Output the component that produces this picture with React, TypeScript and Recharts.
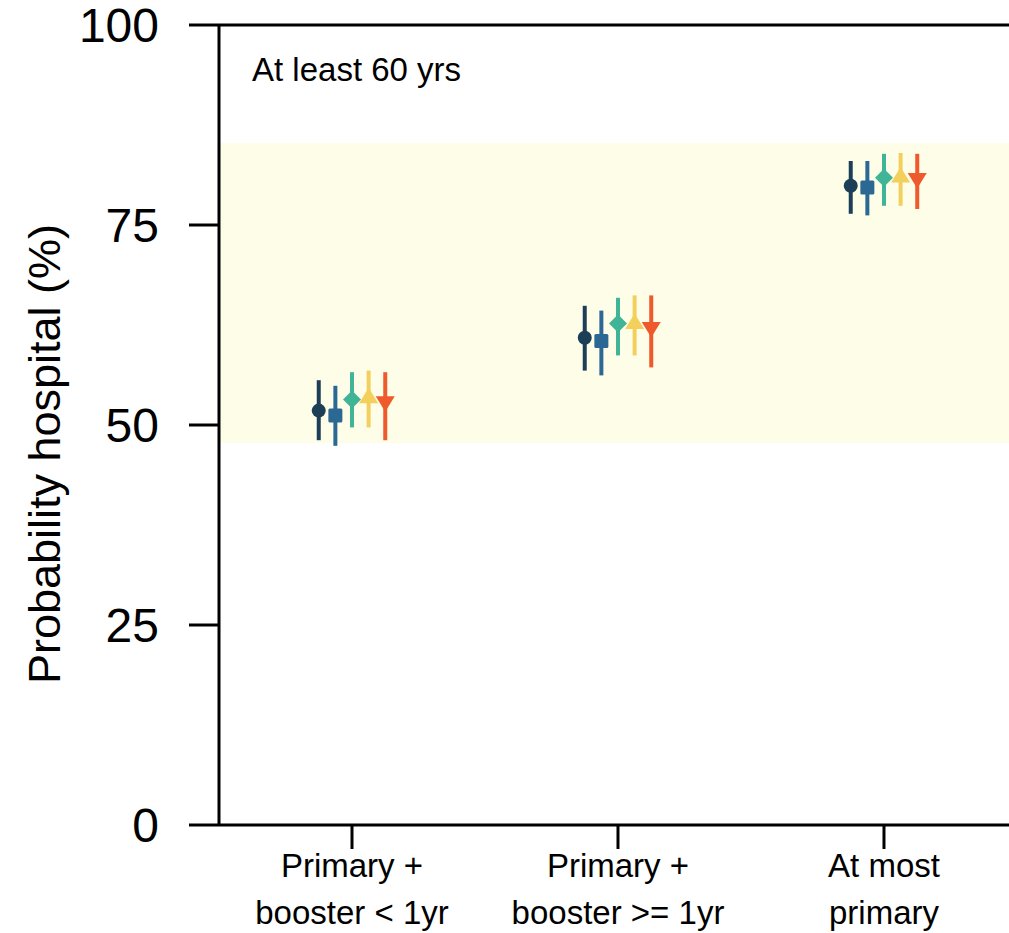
import { ScatterChart, Scatter, XAxis, YAxis, ErrorBar, ReferenceArea, ReferenceLine } from 'recharts'

const FONT = '"Liberation Sans", Arial, sans-serif'

// categories (two lines each) and where they sit on the x axis
const categories = [
  ['Primary +', 'booster < 1yr'],
  ['Primary +', 'booster >= 1yr'],
  ['At most', 'primary'],
]
const categoryPos = [1, 2, 3]

// five estimates per category, dodged side by side
const dodge = [-0.125, -0.0625, 0, 0.0625, 0.125]
const colors = ['#1c3f57', '#2b6894', '#3fb497', '#f3cf5c', '#ee5a2c']
const shapes = ['circle', 'square', 'diamond', 'triUp', 'triDown']

const est1 = [51.8, 60.9, 79.9]
const low1 = [48.1, 56.8, 76.4]
const high1 = [55.6, 64.9, 83.0]

const est2 = [51.2, 60.5, 79.7]
const low2 = [47.4, 56.2, 76.2]
const high2 = [54.9, 64.3, 83.0]

const est3 = [53.2, 62.7, 80.9]
const low3 = [49.7, 58.7, 77.4]
const high3 = [56.6, 65.9, 83.9]

const est4 = [53.4, 62.7, 81.0]
const low4 = [49.7, 58.7, 77.4]
const high4 = [56.8, 66.2, 84.0]

const est5 = [52.9, 62.2, 80.8]
const low5 = [48.1, 57.2, 77.0]
const high5 = [56.6, 66.2, 83.9]

const estimates = [est1, est2, est3, est4, est5]
const lows = [low1, low2, low3, low4, low5]
const highs = [high1, high2, high3, high4, high5]

// shaded band
const bandLow = 47.75
const bandHigh = 85.25

const yTicks = [0, 25, 50, 75, 100]

const seriesData = estimates.map((est, s) =>
  est.map((v, i) => ({
    x: categoryPos[i] + dodge[s],
    y: v,
    err: [v - lows[s][i], highs[s][i] - v],
  }))
)

function makeShape(kind: string, color: string) {
  return (props: any) => {
    const { cx, cy } = props
    if (cx == null || cy == null) return <g />
    if (kind === 'circle') return <circle cx={cx} cy={cy} r={7} fill={color} />
    if (kind === 'square') return <rect x={cx - 7} y={cy - 7} width={14} height={14} rx={1.5} fill={color} />
    if (kind === 'diamond')
      return <polygon points={`${cx},${cy - 9} ${cx + 9},${cy} ${cx},${cy + 9} ${cx - 9},${cy}`} fill={color} />
    if (kind === 'triUp')
      return <polygon points={`${cx - 9.5},${cy + 5.5} ${cx + 9.5},${cy + 5.5} ${cx},${cy - 10}`} fill={color} />
    return <polygon points={`${cx - 9.5},${cy - 5.5} ${cx + 9.5},${cy - 5.5} ${cx},${cy + 10}`} fill={color} />
  }
}

function XTick(props: any) {
  const { x, payload } = props
  const idx = categoryPos.indexOf(payload.value)
  const lines = categories[idx] || []
  return (
    <text x={x} y={877} textAnchor="middle" fontFamily={FONT} fontSize={33} fill="#000">
      <tspan x={x} y={877}>{lines[0]}</tspan>
      <tspan x={x} y={924}>{lines[1]}</tspan>
    </text>
  )
}

function YLabel() {
  return (
    <text
      x={60}
      y={454}
      transform="rotate(-90 60 454)"
      textAnchor="middle"
      fontFamily={FONT}
      fontSize={45}
      fill="#000"
    >
      Probability hospital (%)
    </text>
  )
}

export default function App() {
  return (
    <div style={{ position: 'absolute', left: 0, top: 0, width: 1009, height: 933, background: '#fff' }}>
      <ScatterChart width={1009} height={933} margin={{ top: 25, right: 0, bottom: 0, left: 0 }}>
        <ReferenceArea y1={bandLow} y2={bandHigh} fill="#fdfde8" fillOpacity={1} stroke="none" />
        <XAxis
          type="number"
          dataKey="x"
          domain={[0.5, 3.47]}
          ticks={categoryPos}
          interval={0}
          allowDataOverflow
          height={108}
          tickSize={24}
          tick={XTick}
          axisLine={{ stroke: '#000', strokeWidth: 3 }}
          tickLine={{ stroke: '#000', strokeWidth: 3 }}
        />
        <YAxis
          type="number"
          dataKey="y"
          domain={[0, 100]}
          ticks={yTicks}
          interval={0}
          width={219}
          tickSize={30}
          tickMargin={30}
          tick={{ fontFamily: FONT, fontSize: 48, fill: '#000' }}
          axisLine={{ stroke: '#000', strokeWidth: 3 }}
          tickLine={{ stroke: '#000', strokeWidth: 3 }}
          label={<YLabel />}
        />
        <ReferenceLine y={100} stroke="#000" strokeWidth={3} />
        {seriesData.map((d, s) => (
          <Scatter
            key={s}
            data={d}
            fill={colors[s]}
            shape={makeShape(shapes[s], colors[s])}
            isAnimationActive={false}
          >
            <ErrorBar dataKey="err" direction="y" width={0} strokeWidth={4} stroke={colors[s]} />
          </Scatter>
        ))}
      </ScatterChart>
      <div
        style={{
          position: 'absolute',
          left: 252,
          top: 51,
          fontFamily: FONT,
          fontSize: 33,
          lineHeight: '38px',
          color: '#000',
          whiteSpace: 'nowrap',
        }}
      >
        At least 60 yrs
      </div>
    </div>
  )
}
